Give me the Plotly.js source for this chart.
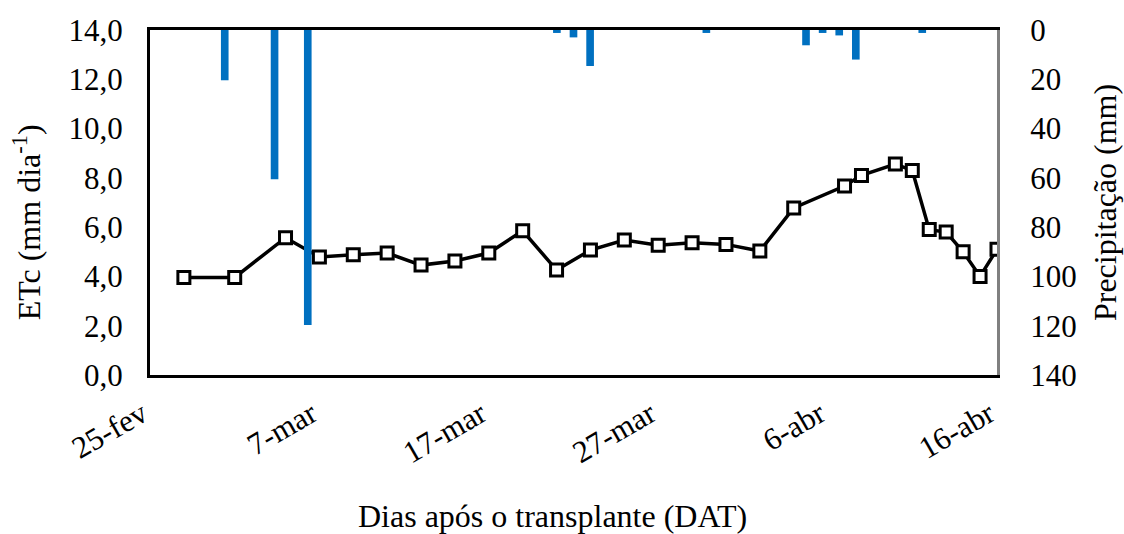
<!DOCTYPE html>
<html>
<head>
<meta charset="utf-8">
<script src="https://cdn.plot.ly/plotly-3.0.1.min.js"></script>
<style>html,body{margin:0;padding:0;background:#fff;}#chart{width:1124px;height:534px;}</style>
</head>
<body>
<div id="chart"></div>
<script>
// ETc (mm dia-1) by date
const etcDates = ['2019-02-27','2019-03-02','2019-03-05','2019-03-07','2019-03-09','2019-03-11','2019-03-13','2019-03-15','2019-03-17','2019-03-19','2019-03-21','2019-03-23','2019-03-25','2019-03-27','2019-03-29','2019-03-31','2019-04-02','2019-04-04','2019-04-07','2019-04-08','2019-04-10','2019-04-11','2019-04-12','2019-04-13','2019-04-14','2019-04-15','2019-04-16'];
const etcValues = [3.96,3.96,5.57,4.79,4.88,4.95,4.46,4.63,4.95,5.85,4.26,5.07,5.48,5.27,5.37,5.30,5.03,6.78,7.67,8.10,8.56,8.30,5.90,5.80,5.00,4.00,5.10];

// Precipitation (mm) by date
const rainDates = ['2019-03-01','2019-03-04','2019-03-06','2019-03-21','2019-03-22','2019-03-23','2019-03-30','2019-04-05','2019-04-06','2019-04-07','2019-04-08','2019-04-12'];
const rainValues = [20.4,60.6,119.7,1.2,3.0,14.6,1.2,6.2,1.2,2.2,12.0,1.2];

// x tick labels
const xTickDates = ['2019-02-25','2019-03-07','2019-03-17','2019-03-27','2019-04-06','2019-04-16'];
const xTickLabels = ['25-fev','7-mar','17-mar','27-mar','6-abr','16-abr'];

const FONT = '"Liberation Serif", "Times New Roman", serif';
const DAY = 86400000;
const TICK = 31;
const TITLE = 32;

const traces = [
  {
    type: 'scatter', mode: 'lines+markers',
    x: etcDates, y: etcValues, xaxis: 'x', yaxis: 'y',
    line: {color: '#000', width: 3.5},
    marker: {symbol: 'square', size: 12, color: '#fff', line: {color: '#000', width: 3}},
    hoverinfo: 'x+y', showlegend: false
  },
  {
    type: 'bar', x: rainDates, y: rainValues, xaxis: 'x2', yaxis: 'y2',
    width: 0.46 * DAY,
    marker: {color: '#0070C0', line: {width: 0}},
    showlegend: false
  }
];

const layout = {
  width: 1124, height: 534,
  margin: {l: 150, r: 127, t: 30, b: 159},
  paper_bgcolor: '#fff', plot_bgcolor: '#fff',
  separators: ',.',
  font: {family: FONT, size: TICK, color: '#000'},
  showlegend: false,
  xaxis: {
    type: 'date', range: ['2019-02-25', '2019-04-16'],
    tickmode: 'array', tickvals: xTickDates, ticktext: xTickLabels,
    tickangle: -30, ticks: '', ticklabelstandoff: 6, ticklabelshift: -8,
    showgrid: false, zeroline: false,
    showline: true, linecolor: '#000', linewidth: 3, mirror: true,
    tickfont: {family: FONT, size: TICK, color: '#000'}
  },
  xaxis2: {
    type: 'date', overlaying: 'x', range: ['2019-02-24 12:00', '2019-04-16 12:00'],
    visible: false, showgrid: false, zeroline: false
  },
  yaxis: {
    range: [0, 14], tickmode: 'linear', tick0: 0, dtick: 2, tickformat: '.1f',
    ticks: '', ticklabelstandoff: 18,
    showgrid: false, zeroline: false,
    showline: true, linecolor: '#000', linewidth: 3,
    tickfont: {family: FONT, size: TICK, color: '#000'}
  },
  yaxis2: {
    overlaying: 'y', side: 'right', range: [140, 0],
    tickmode: 'linear', tick0: 0, dtick: 20,
    ticks: '', ticklabelstandoff: 24,
    showgrid: false, zeroline: false,
    showline: true, linecolor: '#808080', linewidth: 3,
    tickfont: {family: FONT, size: TICK, color: '#000'}
  },
  annotations: [
    {text: 'Dias após o transplante (DAT)', xref: 'paper', yref: 'paper',
     x: 0.475, y: -0.41, xanchor: 'center', yanchor: 'middle', showarrow: false,
     font: {family: FONT, size: TITLE, color: '#000'}},
    {text: 'ETc (mm dia<sup>-1</sup>)', xref: 'paper', yref: 'paper',
     x: -0.145, y: 0.443, xanchor: 'center', yanchor: 'middle', textangle: -90, showarrow: false,
     font: {family: FONT, size: TITLE, color: '#000'}},
    {text: 'Precipitação (mm)', xref: 'paper', yref: 'paper',
     x: 1.127, y: 0.50, xanchor: 'center', yanchor: 'middle', textangle: -90, showarrow: false,
     font: {family: FONT, size: TITLE, color: '#000'}}
  ]
};

Plotly.newPlot('chart', traces, layout, {displayModeBar: false, staticPlot: true});
</script>
</body>
</html>
